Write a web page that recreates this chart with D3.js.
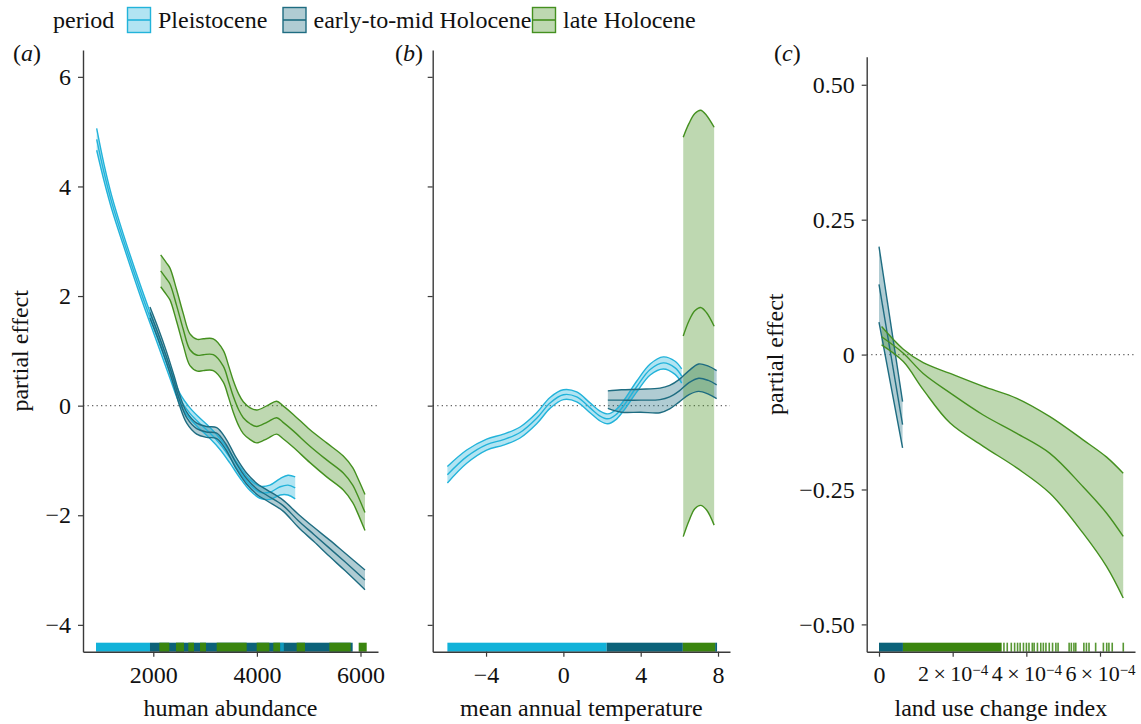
<!DOCTYPE html>
<html>
<head>
<meta charset="utf-8">
<script src="https://cdn.jsdelivr.net/npm/d3@7"></script>
<style>
  body { margin: 0; background: #fff; }
  svg text { font-family: "Liberation Serif", "DejaVu Serif", serif; fill: #111; }
</style>
</head>
<body>
<svg id="chart" width="1141" height="724"></svg>
<script>
const periods = ['Pleistocene', 'early-to-mid Holocene', 'late Holocene'];
const lineColors = ['#22b3da', '#1e6c81', '#44901f'];
const rugColors = ['#12b2d9', '#0c6279', '#3a850f'];

// (a) human abundance
const abundPleiX = [907, 1050, 1200, 1421, 1743, 2066, 2322, 2515, 2708, 2902, 3095, 3288, 3481, 3674, 3867, 4060, 4250, 4450, 4600, 4740];
const abundPleiFit = [4.86, 4.25, 3.70, 3.03, 2.12, 1.27, 0.60, 0.12, -0.14, -0.33, -0.50, -0.70, -0.95, -1.22, -1.45, -1.58, -1.58, -1.48, -1.45, -1.50];
const abundPleiHi = [5.06, 4.40, 3.82, 3.13, 2.22, 1.37, 0.70, 0.22, -0.04, -0.23, -0.40, -0.60, -0.85, -1.12, -1.35, -1.47, -1.45, -1.33, -1.27, -1.30];
const abundPleiLo = [4.66, 4.10, 3.58, 2.93, 2.02, 1.17, 0.50, 0.02, -0.24, -0.43, -0.60, -0.80, -1.05, -1.32, -1.55, -1.69, -1.71, -1.63, -1.63, -1.70];

const abundEarlyX = [1936, 2100, 2250, 2400, 2515, 2645, 2838, 3031, 3224, 3400, 3600, 3800, 4000, 4200, 4500, 4800, 5100, 5400, 5700, 6087];
const abundEarlyFit = [1.70, 1.30, 0.90, 0.45, 0.08, -0.22, -0.42, -0.48, -0.50, -0.70, -1.05, -1.33, -1.52, -1.64, -1.82, -2.10, -2.35, -2.60, -2.85, -3.18];
const abundEarlyHi = [1.80, 1.40, 1.00, 0.55, 0.18, -0.12, -0.32, -0.38, -0.40, -0.60, -0.95, -1.23, -1.42, -1.54, -1.72, -1.98, -2.22, -2.45, -2.69, -3.00];
const abundEarlyLo = [1.60, 1.20, 0.80, 0.35, -0.02, -0.32, -0.52, -0.58, -0.60, -0.80, -1.15, -1.43, -1.62, -1.74, -1.92, -2.22, -2.48, -2.75, -3.01, -3.36];

const abundLateX = [2143, 2250, 2322, 2452, 2579, 2708, 2850, 2965, 3158, 3351, 3450, 3544, 3650, 3737, 3870, 3996, 4200, 4382, 4500, 4703, 5025, 5347, 5668, 5850, 5927, 6087];
const abundLateFit = [2.46, 2.32, 2.22, 1.82, 1.39, 1.02, 0.92, 0.93, 0.93, 0.72, 0.45, 0.17, -0.08, -0.22, -0.33, -0.38, -0.30, -0.22, -0.30, -0.46, -0.74, -0.99, -1.23, -1.45, -1.60, -1.95];
const abundLateHi = [2.75, 2.61, 2.51, 2.11, 1.68, 1.31, 1.21, 1.22, 1.22, 1.01, 0.74, 0.46, 0.21, 0.07, -0.04, -0.08, 0.00, 0.08, 0.00, -0.16, -0.44, -0.68, -0.92, -1.13, -1.28, -1.62];
const abundLateLo = [2.17, 2.03, 1.93, 1.53, 1.10, 0.73, 0.63, 0.64, 0.64, 0.43, 0.16, -0.12, -0.37, -0.51, -0.62, -0.68, -0.60, -0.52, -0.60, -0.76, -1.04, -1.30, -1.54, -1.77, -1.92, -2.28];

const abundRugPlei = [[894, 1936], [4450, 4520]];
const abundRugEarly = [[1936, 5849]];
const abundRugLate = [[2116, 2309], [2438, 2593], [2676, 2786], [2902, 3017], [3224, 3803], [3996, 4240], [4317, 4446], [4768, 4929], [5398, 5811], [5965, 6120]];

// (b) mean annual temperature
const tempPleiX = [-6.0, -5.0, -3.97, -3.1, -2.24, -1.38, -0.69, 0, 0.69, 1.38, 1.9, 2.3, 2.7, 3.1, 3.8, 4.49, 5.17, 5.78, 6.12];
const tempPleiFit = [-1.26, -0.93, -0.71, -0.62, -0.49, -0.23, 0.05, 0.20, 0.16, -0.04, -0.19, -0.24, -0.17, -0.01, 0.35, 0.66, 0.78, 0.69, 0.54];
const tempPleiHi = [-1.11, -0.81, -0.61, -0.52, -0.39, -0.13, 0.15, 0.29, 0.25, 0.05, -0.10, -0.15, -0.08, 0.08, 0.45, 0.76, 0.89, 0.81, 0.67];
const tempPleiLo = [-1.41, -1.05, -0.81, -0.72, -0.59, -0.33, -0.05, 0.11, 0.07, -0.13, -0.28, -0.33, -0.26, -0.10, 0.25, 0.56, 0.67, 0.57, 0.41];

const tempEarlyX = [2.3, 3.0, 4.0, 5.0, 5.5, 6.0, 6.5, 7.0, 7.5, 7.93];
const tempEarlyFit = [0.10, 0.10, 0.10, 0.11, 0.16, 0.27, 0.42, 0.50, 0.46, 0.38];
const tempEarlyHi = [0.27, 0.29, 0.30, 0.32, 0.37, 0.48, 0.64, 0.76, 0.72, 0.64];
const tempEarlyLo = [-0.05, -0.12, -0.12, -0.13, -0.06, 0.07, 0.20, 0.26, 0.21, 0.13];

const tempLateX = [6.2, 6.5, 6.8, 7.1, 7.4, 7.8];
const tempLateFit = [1.27, 1.55, 1.73, 1.79, 1.70, 1.45];
const tempLateHi = [4.90, 5.15, 5.33, 5.39, 5.30, 5.08];
const tempLateLo = [-2.39, -2.10, -1.88, -1.82, -1.90, -2.18];

const tempRugPlei = [[-6.0, 2.24]];
const tempRugEarly = [[2.24, 6.18], [7.85, 7.95]];
const tempRugLate = [[6.18, 7.85]];

// (c) land use change index
const luciEarlyX = [0, 0.64e-4];
const luciEarlyFit = [0.13, -0.13];
const luciEarlyHi = [0.20, -0.087];
const luciEarlyLo = [0.06, -0.173];

const luciLateX = [0.07e-4, 0.66e-4, 1.2e-4, 1.93e-4, 2.83e-4, 3.74e-4, 4.64e-4, 5.54e-4, 6.18e-4, 6.63e-4];
const luciLateFit = [0.033, 0.0025, -0.035, -0.071, -0.112, -0.146, -0.183, -0.245, -0.294, -0.337];
const luciLateHi = [0.052, 0.010, -0.015, -0.035, -0.059, -0.081, -0.115, -0.158, -0.19, -0.22];
const luciLateLo = [0.018, -0.013, -0.065, -0.127, -0.17, -0.21, -0.257, -0.331, -0.393, -0.451];

const luciRugEarly = [[0, 0.65e-4]];
const luciRugLate = [[0.65e-4, 3.33e-4]];
const luciRugLateTicks = [3.37e-4, 3.46e-4, 3.57e-4, 3.66e-4, 3.74e-4, 3.81e-4, 3.90e-4, 3.98e-4, 4.05e-4, 4.14e-4, 4.19e-4, 4.28e-4, 4.37e-4, 4.44e-4, 4.51e-4, 4.60e-4, 4.69e-4, 4.78e-4, 4.84e-4, 5.14e-4, 5.20e-4, 5.27e-4, 5.32e-4, 5.54e-4, 5.61e-4, 5.68e-4, 5.86e-4, 6.07e-4, 6.16e-4, 6.22e-4, 6.31e-4, 6.61e-4];

// ticks
const abundTicks = [2000, 4000, 6000];
const tempTicks = [-4, 0, 4, 8];
const luciTicks = [0, 2e-4, 4e-4, 6e-4];
const effectTicks = [-4, -2, 0, 2, 4, 6];
const luciEffectTicks = [-0.5, -0.25, 0, 0.25, 0.5];

const svg = d3.select('#chart');
const plotBottom = 651.7;
const rugHeight = 9;

function rows(xs, fit, lo, hi) {
    return xs.map((x, i) => ({ x: x, fit: fit[i], lo: lo[i], hi: hi[i] }));
}

function drawPanel(cfg) {
    const g = svg.append('g');
    const x = d3.scaleLinear().domain(cfg.xDomain).range(cfg.xRange);
    const y = d3.scaleLinear().domain(cfg.yDomain).range([plotBottom, cfg.top]);

    // zero line
    g.append('line')
        .attr('x1', cfg.xRange[0]).attr('x2', cfg.xRange[1])
        .attr('y1', y(0)).attr('y2', y(0))
        .attr('stroke', '#666')
        .attr('stroke-width', 1.3)
        .attr('stroke-dasharray', '1.3,3.2');

    const area = d3.area()
        .x(d => x(d.x)).y0(d => y(d.lo)).y1(d => y(d.hi))
        .curve(d3.curveCatmullRom);

    cfg.series.forEach(s => {
        g.append('path')
            .attr('d', area(s.data))
            .attr('fill', lineColors[s.p])
            .attr('fill-opacity', 0.35);
    });

    cfg.series.forEach(s => {
        ['lo', 'fit', 'hi'].forEach(k => {
            const line = d3.line().x(d => x(d.x)).y(d => y(d[k])).curve(d3.curveCatmullRom);
            g.append('path')
                .attr('d', line(s.data))
                .attr('fill', 'none')
                .attr('stroke', lineColors[s.p])
                .attr('stroke-width', 1.4);
        });
    });

    // rug
    cfg.rugs.forEach(r => {
        g.selectAll(null)
            .data(r.spans)
            .enter().append('rect')
            .attr('x', d => x(d[0]))
            .attr('width', d => Math.max(x(d[1]) - x(d[0]), 1.6))
            .attr('y', plotBottom - rugHeight)
            .attr('height', rugHeight)
            .attr('fill', rugColors[r.p])
            .attr('fill-opacity', r.opacity || 1);
    });

    // axes
    const yAxis = g.append('g')
        .attr('transform', `translate(${cfg.xRange[0]},0)`)
        .call(d3.axisLeft(y).tickValues(cfg.yTicks).tickSize(5).tickSizeOuter(0).tickPadding(7).tickFormat(cfg.yFormat));
    const xAxis = g.append('g')
        .attr('transform', `translate(0,${plotBottom})`)
        .call(d3.axisBottom(x).tickValues(cfg.xTicks).tickSize(5).tickSizeOuter(0).tickPadding(9).tickFormat(cfg.xFormat));

    [yAxis, xAxis].forEach(ax => {
        ax.attr('font-family', null);
        ax.select('.domain').attr('stroke', '#3a3a3a').attr('stroke-width', 1.4);
        ax.selectAll('.tick line').attr('stroke', '#3a3a3a').attr('stroke-width', 1.2);
        ax.selectAll('.tick text')
            .attr('fill', '#111')
            .style('font-size', '24px');
    });
    if (cfg.afterX) cfg.afterX(xAxis);

    // titles
    g.append('text')
        .attr('x', (cfg.xRange[0] + cfg.xRange[1]) / 2)
        .attr('y', 716)
        .attr('text-anchor', 'middle')
        .style('font-size', '24px')
        .text(cfg.xTitle);

    if (cfg.yTitle) {
        g.append('text')
            .attr('transform', `translate(${cfg.yTitleX},${(plotBottom + cfg.top) / 2}) rotate(-90)`)
            .attr('text-anchor', 'middle')
            .style('font-size', '24px')
            .text(cfg.yTitle);
    }

    const tag = g.append('text')
        .attr('x', cfg.tagX).attr('y', 61)
        .style('font-size', '24px');
    tag.append('tspan').text('(');
    tag.append('tspan').style('font-style', 'italic').text(cfg.tag);
    tag.append('tspan').text(')');
}

const intFmt = d3.format('d');

drawPanel({
    xDomain: [643, 6338], xRange: [83, 378],
    yDomain: [-4.49, 6.49], top: 50,
    xTicks: abundTicks, yTicks: effectTicks,
    xFormat: intFmt, yFormat: intFmt,
    xTitle: 'human abundance', yTitle: 'partial effect', yTitleX: 28,
    tag: 'a', tagX: 13,
    series: [
        { p: 0, data: rows(abundPleiX, abundPleiFit, abundPleiLo, abundPleiHi) },
        { p: 1, data: rows(abundEarlyX, abundEarlyFit, abundEarlyLo, abundEarlyHi) },
        { p: 2, data: rows(abundLateX, abundLateFit, abundLateLo, abundLateHi) }
    ],
    rugs: [
        { p: 0, spans: [abundRugPlei[0]] },
        { p: 1, spans: abundRugEarly },
        { p: 0, spans: [abundRugPlei[1]], opacity: 0.7 },
        { p: 2, spans: abundRugLate }
    ]
});

drawPanel({
    xDomain: [-6.76, 8.62], xRange: [432.7, 730],
    yDomain: [-4.49, 6.49], top: 50,
    xTicks: tempTicks, yTicks: effectTicks,
    xFormat: intFmt, yFormat: () => '',
    xTitle: 'mean annual temperature',
    tag: 'b', tagX: 395,
    series: [
        { p: 0, data: rows(tempPleiX, tempPleiFit, tempPleiLo, tempPleiHi) },
        { p: 1, data: rows(tempEarlyX, tempEarlyFit, tempEarlyLo, tempEarlyHi) },
        { p: 2, data: rows(tempLateX, tempLateFit, tempLateLo, tempLateHi) }
    ],
    rugs: [
        { p: 0, spans: tempRugPlei },
        { p: 1, spans: tempRugEarly },
        { p: 2, spans: tempRugLate }
    ]
});

drawPanel({
    xDomain: [-0.334e-4, 6.95e-4], xRange: [866.7, 1135],
    yDomain: [-0.5506, 0.552], top: 56.7,
    xTicks: luciTicks, yTicks: luciEffectTicks,
    xFormat: d => d === 0 ? '0' : '', yFormat: d => d === 0 ? '0' : d3.format('.2f')(d),
    xTitle: 'land use change index', yTitle: 'partial effect', yTitleX: 783,
    tag: 'c', tagX: 774,
    series: [
        { p: 1, data: rows(luciEarlyX, luciEarlyFit, luciEarlyLo, luciEarlyHi) },
        { p: 2, data: rows(luciLateX, luciLateFit, luciLateLo, luciLateHi) }
    ],
    rugs: [
        { p: 1, spans: luciRugEarly },
        { p: 2, spans: luciRugLate },
        { p: 2, spans: luciRugLateTicks.map(v => [v, v]), opacity: 0.85 }
    ],
    afterX: ax => {
        // scientific labels: 2 × 10^−4
        ax.selectAll('.tick text').each(function(d) {
            if (d === 0) return;
            const t = d3.select(this).style('font-size', '22px');
            t.text(null);
            t.append('tspan').text(`${Math.round(d * 1e4)}\u2009\u00d7\u200910`);
            t.append('tspan').attr('dy', '-0.42em').style('font-size', '15px').text('\u22124');
        });
    }
});

// legend
const legend = svg.append('g');
legend.append('text').attr('x', 53).attr('y', 28).style('font-size', '24px').text('period');
const keyX = [127, 282.5, 532];
periods.forEach((name, i) => {
    const k = legend.append('g').attr('transform', `translate(${keyX[i]},7)`);
    k.append('rect')
        .attr('x', 0.5).attr('y', 0.5).attr('width', 23).attr('height', 25)
        .attr('fill', lineColors[i]).attr('fill-opacity', 0.35)
        .attr('stroke', lineColors[i]).attr('stroke-width', 1.4);
    k.append('line')
        .attr('x1', 0.5).attr('x2', 23.5).attr('y1', 13).attr('y2', 13)
        .attr('stroke', lineColors[i]).attr('stroke-width', 1.6);
    legend.append('text')
        .attr('x', keyX[i] + 31).attr('y', 28)
        .style('font-size', '24px')
        .text(name);
});
</script>
</body>
</html>
